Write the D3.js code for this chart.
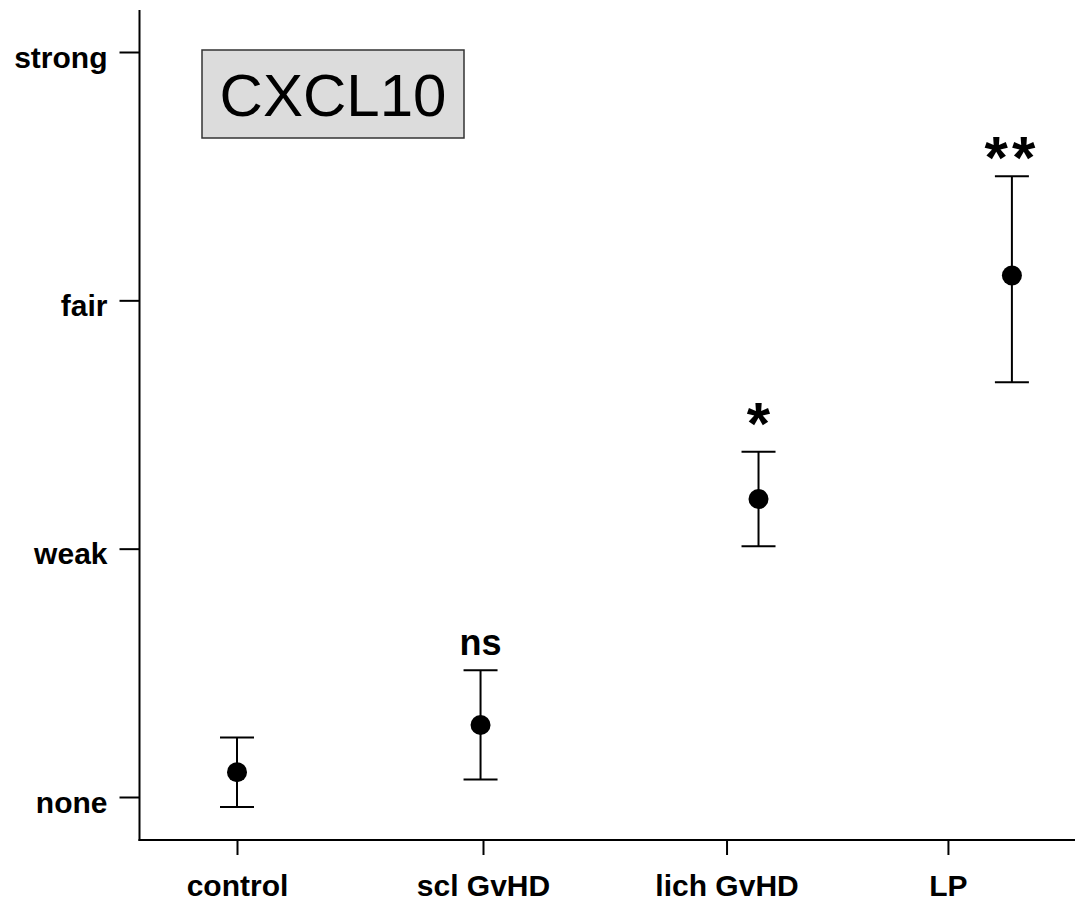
<!DOCTYPE html>
<html>
<head>
<meta charset="utf-8">
<script src="https://cdn.jsdelivr.net/npm/d3@7"></script>
<style>
  html, body { margin: 0; padding: 0; background: #fff; }
  svg { display: block; }
</style>
</head>
<body>
<svg id="chart" width="1075" height="902"></svg>
<script>
// ---- data ----
const categories = ["control", "scl GvHD", "lich GvHD", "LP"];
const tickPositions = [0, 1, 1.99, 2.89];     // category tick positions on x axis
const pointPositions = [0, 0.99, 2.12, 3.15];  // x positions of the plotted means
const means = [0.10, 0.29, 1.20, 2.10];
const lowerCI = [-0.04, 0.07, 1.01, 1.67];
const upperCI = [0.24, 0.51, 1.39, 2.50];
const significance = ["", "ns", "*", "**"];
const yTickValues = [0, 1, 2, 3];
const yTickLabels = ["none", "weak", "fair", "strong"];
const title = "CXCL10";

// ---- layout ----
const svg = d3.select("#chart");
const font = "'Liberation Sans', Arial, sans-serif";
const x = d3.scaleLinear().domain([0, 1]).range([237, 483]);
const y = d3.scaleLinear().domain([0, 3]).range([797, 52]);
const axisX0 = 139.5, axisY0 = 840;

// y axis
svg.append("line").attr("x1", axisX0).attr("x2", axisX0).attr("y1", 10).attr("y2", axisY0 + 1)
  .attr("stroke", "#000").attr("stroke-width", 2);
const yAxis = d3.axisLeft(y).tickValues(yTickValues).tickSize(20).tickSizeOuter(0)
  .tickFormat((d, i) => yTickLabels[i]).tickPadding(12);
const gy = svg.append("g").attr("transform", `translate(${axisX0},0)`).call(yAxis);
gy.select(".domain").remove();
gy.selectAll(".tick line").attr("stroke", "#000").attr("stroke-width", 2);
gy.selectAll(".tick text").attr("font-family", font).attr("font-weight", "bold")
  .attr("font-size", 30).attr("fill", "#000").attr("dy", null).attr("y", 15)
  .attr("x", -32);

// x axis
svg.append("line").attr("x1", axisX0 - 1).attr("x2", 1075).attr("y1", axisY0).attr("y2", axisY0)
  .attr("stroke", "#000").attr("stroke-width", 2);
const xAxis = d3.axisBottom(x).tickValues(tickPositions).tickSize(15).tickSizeOuter(0)
  .tickFormat((d, i) => categories[i]);
const gx = svg.append("g").attr("transform", `translate(0,${axisY0})`).call(xAxis);
gx.select(".domain").remove();
gx.selectAll(".tick line").attr("stroke", "#000").attr("stroke-width", 2);
gx.selectAll(".tick text").attr("font-family", font).attr("font-weight", "bold")
  .attr("font-size", 30).attr("fill", "#000").attr("dy", null).attr("y", 56);

// error bars
const data = categories.map((c, i) => ({
  c, px: pointPositions[i], m: means[i], lo: lowerCI[i], hi: upperCI[i], s: significance[i]
}));
const capW = 17;
const g = svg.append("g");
g.selectAll("line.stem").data(data).join("line").attr("class", "stem")
  .attr("x1", d => x(d.px)).attr("x2", d => x(d.px))
  .attr("y1", d => y(d.lo)).attr("y2", d => y(d.hi))
  .attr("stroke", "#000").attr("stroke-width", 2);
g.selectAll("line.capTop").data(data).join("line").attr("class", "capTop")
  .attr("x1", d => x(d.px) - capW).attr("x2", d => x(d.px) + capW)
  .attr("y1", d => y(d.hi)).attr("y2", d => y(d.hi))
  .attr("stroke", "#000").attr("stroke-width", 2);
g.selectAll("line.capBot").data(data).join("line").attr("class", "capBot")
  .attr("x1", d => x(d.px) - capW).attr("x2", d => x(d.px) + capW)
  .attr("y1", d => y(d.lo)).attr("y2", d => y(d.lo))
  .attr("stroke", "#000").attr("stroke-width", 2);
g.selectAll("circle").data(data).join("circle")
  .attr("cx", d => x(d.px)).attr("cy", d => y(d.m)).attr("r", 10).attr("fill", "#000");

// significance labels
const sigOffset = { "ns": -15, "*": -8, "**": 2 };
g.selectAll("text.sig").data(data.filter(d => d.s)).join("text").attr("class", "sig")
  .attr("x", d => x(d.px))
  .attr("y", d => y(d.hi) + sigOffset[d.s])
  .attr("text-anchor", "middle")
  .attr("font-family", font).attr("font-weight", "bold")
  .attr("font-size", d => d.s === "ns" ? 36 : 60)
  .attr("letter-spacing", d => d.s === "**" ? 4 : 0)
  .attr("fill", "#000")
  .text(d => d.s);

// title box
svg.append("rect").attr("x", 202).attr("y", 50).attr("width", 262).attr("height", 88)
  .attr("fill", "#dcdcdc").attr("stroke", "#333").attr("stroke-width", 1.5);
svg.append("text").attr("x", 333).attr("y", 116).attr("text-anchor", "middle")
  .attr("font-family", font).attr("font-size", 60).attr("fill", "#000").text(title);
</script>
</body>
</html>
